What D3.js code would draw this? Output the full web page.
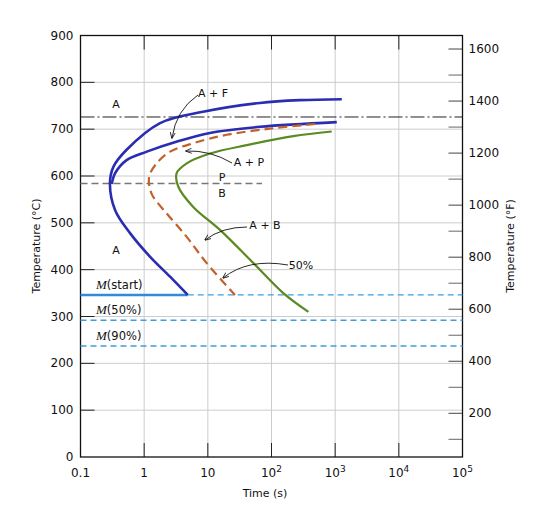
<!DOCTYPE html>
<html><head><meta charset="utf-8">
<script src="https://cdn.jsdelivr.net/npm/d3@7"></script>
<style>body{margin:0;background:#fff}text{font-family:"DejaVu Sans",sans-serif;fill:#111}</style>
</head><body><svg id="c" width="543" height="520"></svg>
<script>
const xTicks=[0.1,1,10,100,1000,10000,100000];
const xTickLabels=["0.1","1","10","10^2","10^3","10^4","10^5"];
const yTicksC=[0,100,200,300,400,500,600,700,800,900];
const yTicksF=[200,400,600,800,1000,1200,1400,1600];
// [time s, temp C]
const outerBlue=[[1270,764],[282,762],[66,756],[8.4,737],[1.78,713],[0.53,656],[0.33,620],[0.29,585],[0.35,527],[0.6,478],[1.23,428],[2.55,385],[4.83,346]];
const innerBlue=[[1060,715],[66,705],[10.8,692],[3.2,673],[1.1,652],[0.53,634],[0.35,606],[0.31,583]];
const orange=[[484,711],[107,702],[19.8,688],[5.9,670],[2.55,652],[1.57,627],[1.2,599],[1.3,563],[2.26,520],[4.66,470],[9.6,414],[26.7,346]];
const green=[[883,695],[220,685],[41,666],[10.8,648],[4.66,627],[3.24,606],[3.44,577],[5.9,534],[15.5,485],[52,414],[153,350],[380,310]];
const eutectoidT=726, pbT=584, pbEnd=71;
const mLines=[{label:"(start)",T:346,solidTo:4.83},{label:"(50%)",T:292},{label:"(90%)",T:237}];

const svg=d3.select("#c");
const x=d3.scaleLog().domain([0.1,1e5]).range([80.5,462.5]);
const y=d3.scaleLinear().domain([0,900]).range([457,35.5]);
const yF=d3.scaleLinear().domain([32,900*1.8+32]).range([457,35.5]);
svg.append("g").selectAll("line").data(xTicks.slice(1,-1)).join("line")
 .attr("x1",d=>x(d)).attr("x2",d=>x(d)).attr("y1",y(900)).attr("y2",y(0)).attr("stroke","#ccc");
svg.append("g").selectAll("line").data(yTicksC.slice(1,-1)).join("line")
 .attr("x1",x(0.1)).attr("x2",x(1e5)).attr("y1",d=>y(d)).attr("y2",d=>y(d)).attr("stroke","#ccc");
const tk=svg.append("g").attr("stroke","#222");
xTicks.slice(1,-1).forEach(d=>{tk.append("line").attr("x1",x(d)).attr("x2",x(d)).attr("y1",y(0)).attr("y2",y(0)-14);
 tk.append("line").attr("x1",x(d)).attr("x2",x(d)).attr("y1",y(900)).attr("y2",y(900)+14);});
yTicksC.slice(1,-1).forEach(d=>tk.append("line").attr("x1",x(0.1)).attr("x2",x(0.1)+14).attr("y1",y(d)).attr("y2",y(d)));
d3.range(100,1700,100).forEach(d=>tk.append("line").attr("x1",x(1e5)).attr("x2",x(1e5)-14).attr("y1",yF(d)).attr("y2",yF(d)).attr("stroke",d%200?"#666":"#444"));
svg.append("rect").attr("x",x(0.1)).attr("y",y(900)).attr("width",x(1e5)-x(0.1)).attr("height",y(0)-y(900)).attr("fill","none").attr("stroke","#111").attr("stroke-width",1.3);
svg.append("g").selectAll("text").data(yTicksC).join("text").attr("x",x(0.1)-7).attr("y",d=>y(d)+4).attr("text-anchor","end").attr("font-size",12).text(d=>d);
svg.append("g").selectAll("text").data(yTicksF).join("text").attr("x",x(1e5)+6).attr("y",d=>yF(d)+4).attr("font-size",12).text(d=>d);
xTicks.forEach((d,i)=>{const t=svg.append("text").attr("x",x(d)).attr("y",477).attr("text-anchor","middle").attr("font-size",12);
 const s=xTickLabels[i]; if(s.includes("^")){const [b,e]=s.split("^");t.append("tspan").text(b);t.append("tspan").attr("dy",-5).attr("font-size",9).text(e);}else t.text(s);});
svg.append("text").attr("x",265).attr("y",497).attr("text-anchor","middle").attr("font-size",11).text("Time (s)");
svg.append("text").attr("transform","translate(40,246) rotate(-90)").attr("text-anchor","middle").attr("font-size",11).text("Temperature (°C)");
svg.append("text").attr("transform","translate(514,246) rotate(-90)").attr("text-anchor","middle").attr("font-size",11).text("Temperature (°F)");
svg.append("line").attr("x1",x(0.1)).attr("x2",x(1e5)).attr("y1",y(eutectoidT)).attr("y2",y(eutectoidT)).attr("stroke","#222").attr("stroke-dasharray","14,3,2,3");
svg.append("line").attr("x1",x(0.1)).attr("x2",x(pbEnd)).attr("y1",y(pbT)).attr("y2",y(pbT)).attr("stroke","#777").attr("stroke-width",1.5).attr("stroke-dasharray","7,4");
mLines.forEach(m=>{
 svg.append("line").attr("x1",m.solidTo?x(m.solidTo):x(0.1)).attr("x2",x(1e5)).attr("y1",y(m.T)).attr("y2",y(m.T)).attr("stroke","#3a9fe0").attr("stroke-width",1.3).attr("stroke-dasharray","6,4");
 if(m.solidTo) svg.append("line").attr("x1",x(0.1)).attr("x2",x(m.solidTo)).attr("y1",y(m.T)).attr("y2",y(m.T)).attr("stroke","#2f8be0").attr("stroke-width",2.5);
 const t=svg.append("text").attr("x",96).attr("y",y(m.T)-6).attr("font-size",11.5);
 t.append("tspan").attr("font-family","Liberation Serif,serif").attr("font-style","italic").attr("font-size",13).text("M");
 t.append("tspan").text(m.label);
});
const line=d3.line().x(d=>x(d[0])).y(d=>y(d[1])).curve(d3.curveCatmullRom.alpha(0.5));
svg.append("path").attr("d",line(outerBlue)).attr("fill","none").attr("stroke","#2a2db0").attr("stroke-width",2.6);
svg.append("path").attr("d",line(innerBlue)).attr("fill","none").attr("stroke","#2a2db0").attr("stroke-width",2.6);
svg.append("path").attr("d",line(orange)).attr("fill","none").attr("stroke","#c0622a").attr("stroke-width",2.2).attr("stroke-dasharray","9,5");
svg.append("path").attr("d",line(green)).attr("fill","none").attr("stroke","#5a8a22").attr("stroke-width",2.2);
const lab=[["A",116,108],["A + F",213,97],["A + P",249,166],["P",222,181],["B",222,197],["A + B",265,229],["50%",301,269],["A",116,254]];
svg.append("g").selectAll("text").data(lab).join("text").attr("x",d=>d[1]).attr("y",d=>d[2]).attr("text-anchor","middle").attr("font-size",11).text(d=>d[0]);
svg.append("defs").append("marker").attr("id","ah").attr("viewBox","0 0 10 10").attr("refX",9).attr("refY",5).attr("markerWidth",7).attr("markerHeight",7).attr("orient","auto")
 .append("path").attr("d","M0,1 L10,5 L0,9").attr("fill","none").attr("stroke","#111").attr("stroke-width",1.3);
const arrows=[["M198,95 Q176,110 172,138"],["M232,163 Q210,150 186,151"],["M247,227 Q222,227 205,240"],["M288,265 Q248,258 223,278"]];
svg.append("g").selectAll("path").data(arrows).join("path").attr("d",d=>d[0]).attr("fill","none").attr("stroke","#111").attr("stroke-width",0.9).attr("marker-end","url(#ah)");
</script></body></html>
